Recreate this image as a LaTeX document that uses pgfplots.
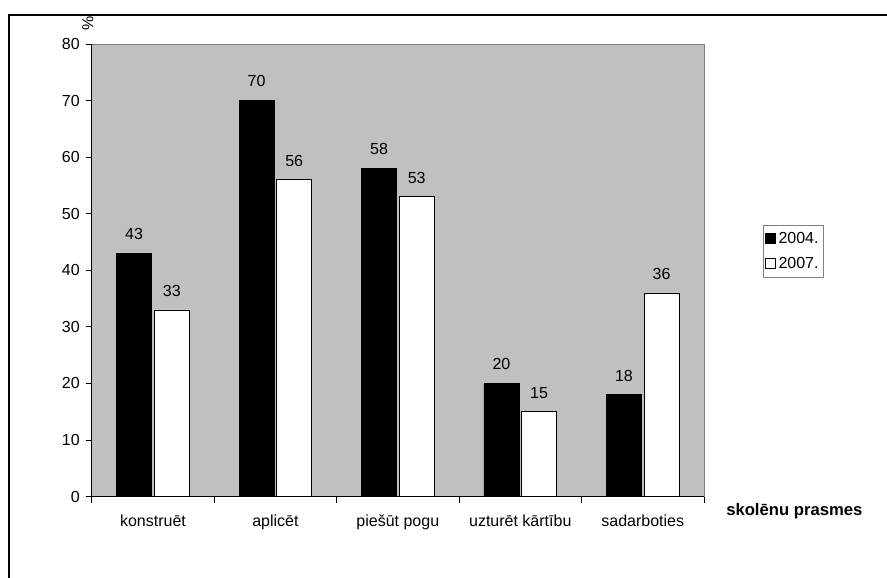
\documentclass[border=0pt]{standalone}
\usepackage{pgfplots}
\pgfplotsset{compat=1.18}
\usepackage{fontspec}
\setmainfont{Liberation Sans}
\definecolor{plotgray}{HTML}{C0C0C0}
\definecolor{bordergray}{HTML}{808080}
\begin{document}
\begin{tikzpicture}
\path[use as bounding box] (-68.8pt,-61pt) rectangle (596.5pt,372.5pt);
\draw[line width=1.1pt] (-62.2pt,-70pt) -- (-62.2pt,361.3pt) -- (610pt,361.3pt);
\begin{axis}[
  scale only axis,
  width=459.2pt, height=339.5pt,
  anchor=south west, at={(0pt,0pt)},
  ybar, bar width=26.25pt, bar shift auto,
  xmin=-0.5, xmax=4.5, ymin=0, ymax=80,
  ytick={0,10,...,80},
  xtick={0,1,2,3,4},
  xticklabels={konstruēt, aplicēt, piešūt pogu, uzturēt kārtību, sadarboties},
  major x tick style={draw=none},
  extra x ticks={-0.5,0.5,1.5,2.5,3.5,4.5},
  extra x tick labels={},
  extra x tick style={major x tick style={draw=black, line width=0.6pt}},
  axis x line*=bottom, axis y line*=left,
  axis line style={black, line width=0.6pt},
  axis background/.style={fill=plotgray, draw=bordergray, line width=0.6pt},
  tick align=outside, major tick length=4.5pt,
  y tick style={black, line width=0.6pt},
  /pgf/number format/assume math mode=true,
  tick label style={font=\fontsize{12}{14}\selectfont},
  xticklabel style={yshift=-6pt},
  yticklabel style={xshift=-1pt},
  nodes near coords,
  every node near coord/.append style={font=\fontsize{12}{14}\selectfont, yshift=6.5pt},
  legend style={at={(1.0959,0.6003)}, anchor=north west, draw=bordergray, line width=0.6pt,
    font=\fontsize{12}{14}\selectfont, inner xsep=1.5pt, inner ysep=3pt, row sep=5pt,
    /tikz/every even column/.append style={column sep=0pt}},
  legend cell align=left,
  legend image code/.code={\draw[#1, line width=0.6pt] (0pt,-3.8pt) rectangle (7.5pt,3.8pt);},
  clip=false,
]
\addplot[fill=black, draw=black, line width=0.6pt] coordinates {(0,43) (1,70) (2,58) (3,20) (4,18)};
\addplot[fill=white, draw=black, line width=0.6pt] coordinates {(0,33) (1,56) (2,53) (3,15) (4,36)};
\legend{2004., 2007.}
\end{axis}
\node[rotate=90, font=\fontsize{12}{14}\selectfont] at (-2.8pt,355pt) {\%};
\node[font=\fontsize{12.5}{14}\selectfont\bfseries] at (527pt,-11.25pt) {skolēnu prasmes};
\end{tikzpicture}
\end{document}
